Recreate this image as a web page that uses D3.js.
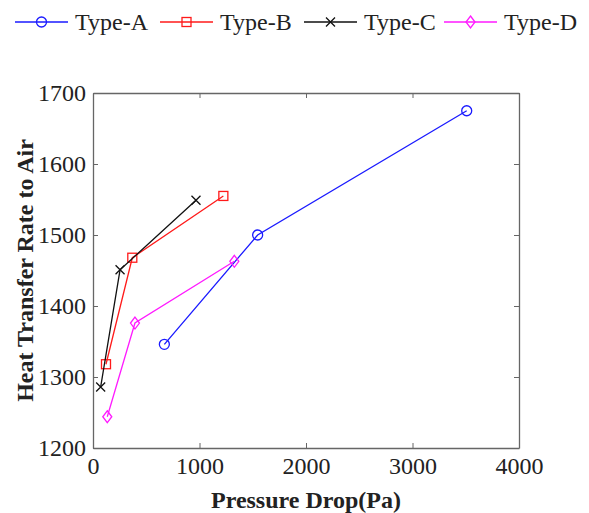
<!DOCTYPE html>
<html>
<head>
<meta charset="utf-8">
<script src="https://cdn.jsdelivr.net/npm/d3@7"></script>
<style>
  body { margin: 0; background: #fff; }
</style>
</head>
<body>
<script>
// series: [pressure drop (Pa), heat transfer rate]
var seriesNames = ["Type-A", "Type-B", "Type-C", "Type-D"];
var typeA = [[670, 1346], [1546, 1500], [3509, 1675]];
var typeB = [[122, 1318], [369, 1468], [1224, 1555]];
var typeC = [[72, 1286], [254, 1451], [967, 1549]];
var typeD = [[134, 1244], [394, 1376], [1327, 1463]];
var xTicks = [0, 1000, 2000, 3000, 4000];
var yTicks = [1200, 1300, 1400, 1500, 1600, 1700];

var colors = ["#1a1aff", "#ff1a1a", "#111111", "#ff1aff"];
var markers = ["circle", "square", "cross", "diamond"];
var allSeries = [typeA, typeB, typeC, typeD];
var serif = "Liberation Serif";

var svg = d3.select("body").append("svg")
            .attr("width", 589)
            .attr("height", 513);

var margin = {left: 93, right: 70, top: 93, bottom: 65};
var width = 589 - margin.left - margin.right;
var height = 513 - margin.top - margin.bottom;

var x = d3.scaleLinear().domain([0, 4000]).range([0, width]);
var y = d3.scaleLinear().domain([1200, 1700]).range([height, 0]);

var g = svg.append("g")
           .attr("transform", "translate(" + margin.left + "," + margin.top + ")");

// box with inner ticks on all four sides
function styleAxis(sel, showText) {
  sel.select(".domain").attr("stroke", "#666").attr("stroke-width", 1.3);
  sel.selectAll(".tick line").attr("stroke", "#666").attr("stroke-width", 1);
  sel.selectAll("text")
     .style("font-family", serif)
     .style("font-size", "24px")
     .attr("fill", "#222");
  if (!showText) sel.selectAll("text").remove();
}

g.append("g")
 .attr("transform", "translate(0," + height + ")")
 .call(d3.axisBottom(x).tickValues(xTicks).tickFormat(d3.format("d"))
        .tickSizeInner(-5).tickSizeOuter(0).tickPadding(9))
 .call(styleAxis, true);

g.append("g")
 .call(d3.axisTop(x).tickValues(xTicks).tickSizeInner(-5).tickSizeOuter(0))
 .call(styleAxis, false);

g.append("g")
 .call(d3.axisLeft(y).tickValues(yTicks).tickFormat(d3.format("d"))
        .tickSizeInner(-5).tickSizeOuter(0).tickPadding(7))
 .call(styleAxis, true);

g.append("g")
 .attr("transform", "translate(" + width + ",0)")
 .call(d3.axisRight(y).tickValues(yTicks).tickSizeInner(-5).tickSizeOuter(0))
 .call(styleAxis, false);

// axis titles
svg.append("text")
   .attr("x", margin.left + width / 2)
   .attr("y", 508)
   .attr("text-anchor", "middle")
   .style("font-family", serif)
   .style("font-size", "24px")
   .style("font-weight", "bold")
   .attr("fill", "#222")
   .text("Pressure Drop(Pa)");

svg.append("text")
   .attr("transform", "translate(33," + (margin.top + height / 2) + ") rotate(-90)")
   .attr("text-anchor", "middle")
   .style("font-family", serif)
   .style("font-size", "24px")
   .style("font-weight", "bold")
   .attr("fill", "#222")
   .text("Heat Transfer Rate to Air");

// marker drawing
function drawMarker(sel, type, color) {
  if (type == "circle") {
    sel.append("circle").attr("r", 5);
  } else if (type == "square") {
    sel.append("rect").attr("x", -4.5).attr("y", -4.5).attr("width", 9).attr("height", 9);
  } else if (type == "cross") {
    sel.append("path").attr("d", "M-4.5,-4.5L4.5,4.5M-4.5,4.5L4.5,-4.5");
  } else {
    sel.append("path").attr("d", "M0,-6L4.5,0L0,6L-4.5,0Z");
  }
  sel.selectAll("*").attr("fill", "none").attr("stroke", color).attr("stroke-width", 1.3);
}

var line = d3.line()
             .x(function(d) { return x(d[0]); })
             .y(function(d) { return y(d[1]); });

for (let i = 0; i < allSeries.length; i++) {
  g.append("path")
   .datum(allSeries[i])
   .attr("d", line)
   .attr("fill", "none")
   .attr("stroke", colors[i])
   .attr("stroke-width", 1.3);

  g.selectAll(".m" + i)
   .data(allSeries[i])
   .enter().append("g")
   .attr("class", "m" + i)
   .attr("transform", function(d) { return "translate(" + x(d[0]) + "," + y(d[1]) + ")"; })
   .each(function() { drawMarker(d3.select(this), markers[i], colors[i]); });
}

// legend across the top
var legendX = [15, 160, 304, 444];
for (let i = 0; i < seriesNames.length; i++) {
  var lg = svg.append("g").attr("transform", "translate(" + legendX[i] + ",22)");
  lg.append("line")
    .attr("x1", 0).attr("x2", 53)
    .attr("stroke", colors[i]).attr("stroke-width", 1.3);
  var mk = lg.append("g").attr("transform", "translate(26.5,0)");
  drawMarker(mk, markers[i], colors[i]);
  lg.append("text")
    .attr("x", 60)
    .attr("y", 8)
    .style("font-family", serif)
    .style("font-size", "24px")
    .attr("fill", "#222")
    .text(seriesNames[i]);
}
</script>
</body>
</html>
